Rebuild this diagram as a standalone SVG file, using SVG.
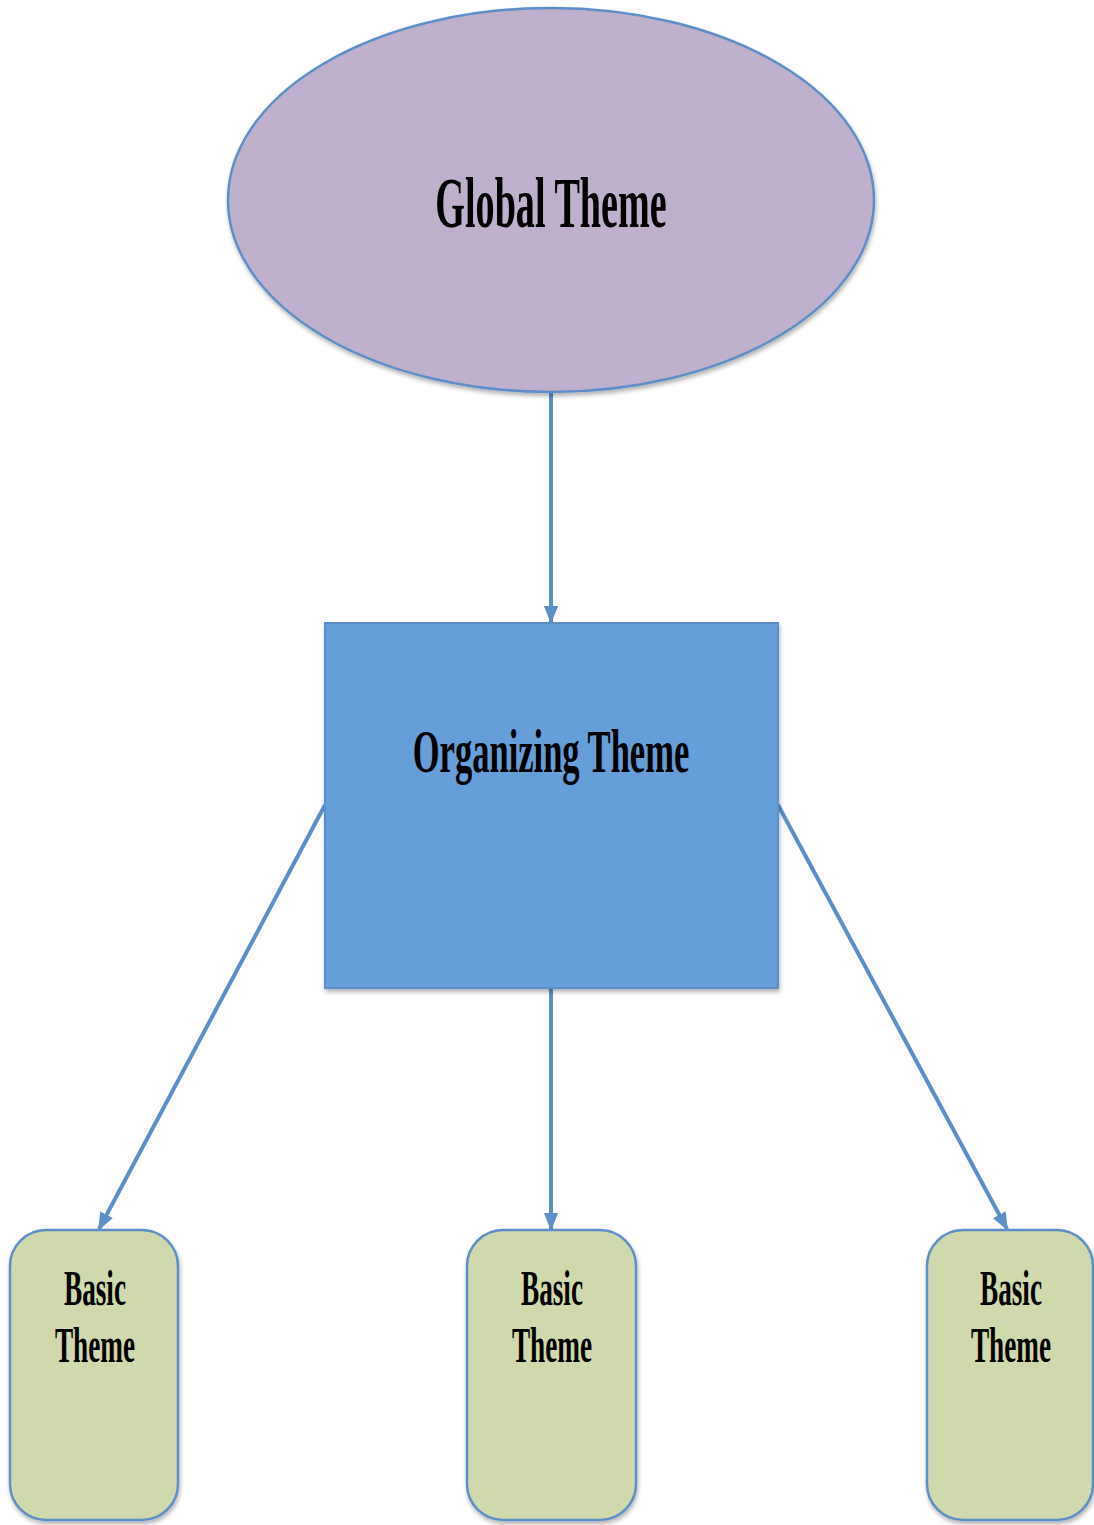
<svg xmlns="http://www.w3.org/2000/svg" width="1094" height="1525" viewBox="0 0 1094 1525">
<style>
.lbl{font-family:"Liberation Serif","DejaVu Serif",serif;font-weight:bold;fill:#000;text-anchor:middle}
.b{font-size:50px}
.conn{stroke:#5b8fc9;stroke-width:4;fill:none}
.basic{fill:#cfd9ac;stroke:#5b8fc9;stroke-width:2.5}
</style>
<defs>
<marker id="ah" viewBox="0 0 10 10" refX="9" refY="5" markerWidth="4.5" markerHeight="4.5" orient="auto" markerUnits="strokeWidth">
<path d="M0,1 L10,5 L0,9 Z" fill="#5b8fc9"/>
</marker>
<filter id="sh" x="-10%" y="-10%" width="120%" height="120%">
<feDropShadow dx="1" dy="3" stdDeviation="2" flood-color="#000" flood-opacity="0.3"/>
</filter>
</defs>
<g id="connectors">
<line class="conn" x1="551" y1="393" x2="551" y2="622" marker-end="url(#ah)"/>
<line class="conn" x1="325" y1="805" x2="99" y2="1229" marker-end="url(#ah)"/>
<line class="conn" x1="551" y1="988" x2="551" y2="1229" marker-end="url(#ah)"/>
<line class="conn" x1="778" y1="805" x2="1007" y2="1229" marker-end="url(#ah)"/>
</g>
<g id="global">
<ellipse cx="551" cy="200" rx="323" ry="192" fill="#bfb0cd" stroke="#5b8fc9" stroke-width="2.5" filter="url(#sh)"/>
<text class="lbl" transform="translate(551,227) scale(0.53,1)" font-size="72">Global Theme</text>
</g>
<g id="organizing">
<rect x="325" y="623" width="453" height="365" fill="#669ed9" stroke="#5a8fc8" stroke-width="2" filter="url(#sh)"/>
<text class="lbl" transform="translate(551,772) scale(0.557,1)" font-size="62">Organizing Theme</text>
</g>
<g id="basic1">
<rect class="basic" x="10" y="1230" width="168" height="290" rx="36" filter="url(#sh)"/>
<text class="lbl b" transform="translate(95,1305) scale(0.545,1)">Basic</text>
<text class="lbl b" transform="translate(95,1362) scale(0.545,1)">Theme</text>
</g>
<g id="basic2">
<rect class="basic" x="467" y="1230" width="169" height="290" rx="36" filter="url(#sh)"/>
<text class="lbl b" transform="translate(552,1305) scale(0.545,1)">Basic</text>
<text class="lbl b" transform="translate(552,1362) scale(0.545,1)">Theme</text>
</g>
<g id="basic3">
<rect class="basic" x="927" y="1230" width="166" height="290" rx="36" filter="url(#sh)"/>
<text class="lbl b" transform="translate(1011,1305) scale(0.545,1)">Basic</text>
<text class="lbl b" transform="translate(1011,1362) scale(0.545,1)">Theme</text>
</g>
</svg>
